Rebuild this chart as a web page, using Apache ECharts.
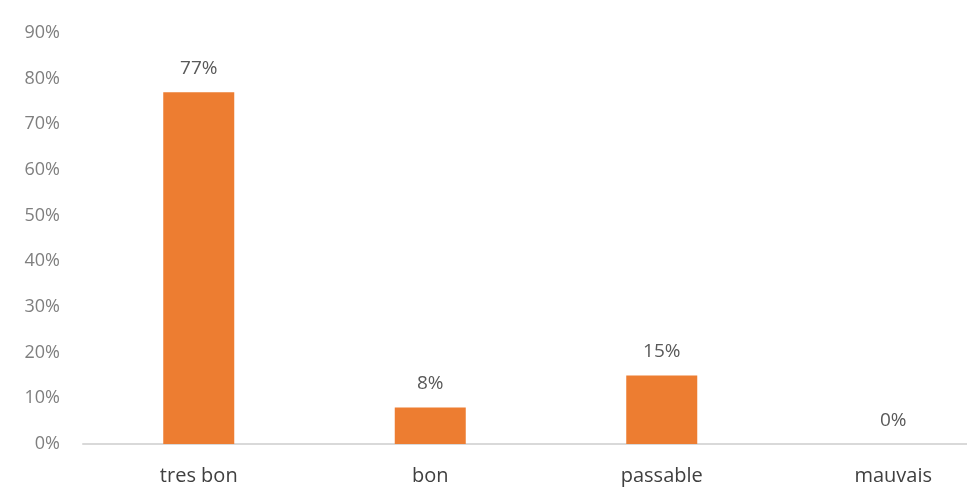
<!DOCTYPE html>
<html>
<head>
<meta charset="utf-8">
<script src="https://cdn.jsdelivr.net/npm/echarts@6/dist/echarts.min.js"></script>
<style>
  html, body { margin: 0; padding: 0; background: #fff; }
  #chart { width: 967px; height: 491px; }
</style>
</head>
<body>
<div id="chart"></div>
<script>
// Appréciation : répartition des réponses (%)
const categories = ['tres bon', 'bon', 'passable', 'mauvais'];
const values = [77, 8, 15, 0];
const yTicks = [0, 10, 20, 30, 40, 50, 60, 70, 80, 90];

const chart = echarts.init(document.getElementById('chart'), null, { renderer: 'canvas' });
chart.setOption({
  animation: false,
  backgroundColor: '#ffffff',
  grid: {
    left: 83, width: 926, top: 33, bottom: 47,
    containLabel: false,
    outerBoundsMode: 'none'
  },
  xAxis: {
    type: 'category',
    data: categories,
    axisLine: { show: true, lineStyle: { color: '#d9d9d9', width: 2 } },
    axisTick: { show: false },
    axisLabel: {
      color: '#404040',
      fontFamily: 'Open Sans',
      fontSize: 20,
      margin: 22
    }
  },
  yAxis: {
    type: 'value',
    min: yTicks[0],
    max: yTicks[yTicks.length - 1],
    interval: 10,
    splitLine: { show: false },
    axisLine: { show: false },
    axisTick: { show: false },
    axisLabel: {
      color: '#7f7f7f',
      fontFamily: 'Open Sans',
      fontSize: 18,
      margin: 23,
      formatter: v => v + '%'
    }
  },
  series: [{
    type: 'bar',
    data: values,
    barWidth: 71,
    itemStyle: { color: '#ed7d31' },
    label: {
      show: true,
      position: 'top',
      distance: 14,
      color: '#595959',
      fontFamily: 'Open Sans',
      fontSize: 19,
      formatter: p => p.value + '%'
    }
  }]
});
</script>
</body>
</html>
